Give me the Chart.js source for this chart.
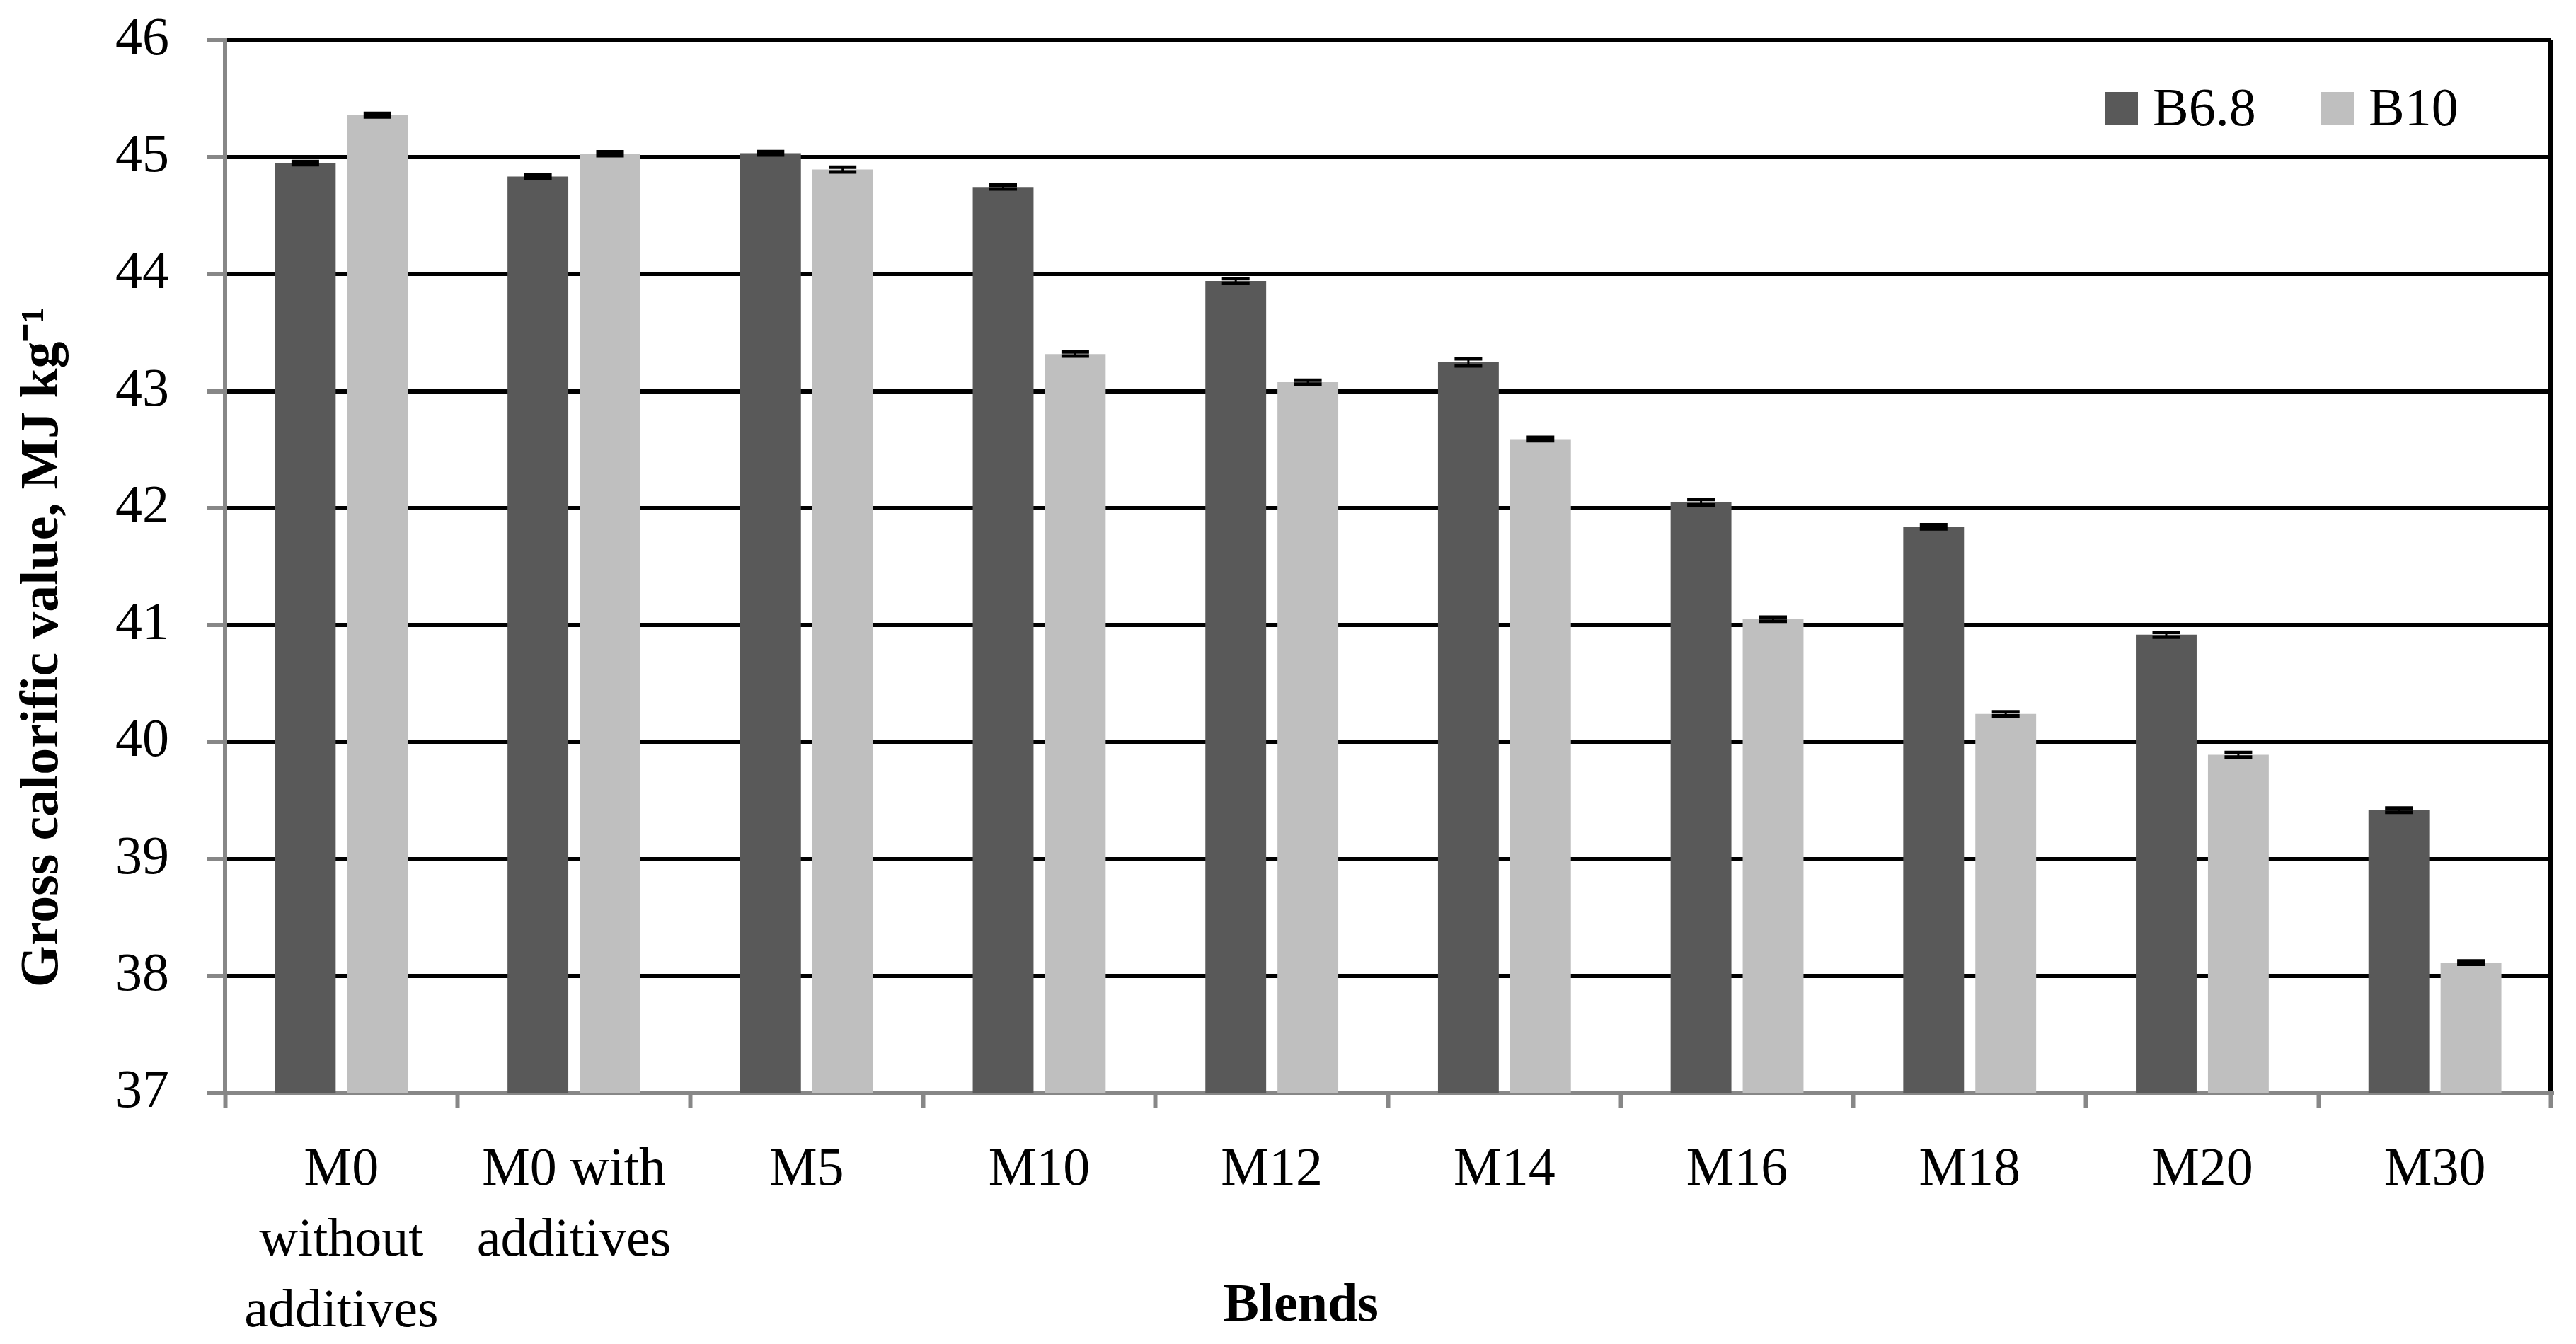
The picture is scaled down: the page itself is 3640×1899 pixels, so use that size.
<!DOCTYPE html>
<html>
<head>
<meta charset="utf-8">
<script src="https://cdn.jsdelivr.net/npm/chart.js@4.4.1/dist/chart.umd.min.js"></script>
<style>
html,body{margin:0;padding:0;background:#ffffff;}
#wrap{width:3640px;height:1899px;position:relative;}
canvas{display:block;}
</style>
</head>
<body>
<div id="wrap"><canvas id="chart" width="3640" height="1899"></canvas></div>
<script>
// ---- data ----
const categories = [["M0", "without", "additives"], ["M0 with", "additives"], "M5", "M10", "M12", "M14", "M16", "M18", "M20", "M30"];
const seriesNames = ["B6.8", "B10"];
const b68Values = [44.95, 44.835, 45.034, 44.746, 43.942, 43.246, 42.05, 41.84, 40.917, 39.416];
const b10Values = [45.36, 45.03, 44.895, 43.318, 43.077, 42.59, 41.05, 40.24, 39.89, 38.113];
const b68Errors = [0.014, 0.014, 0.014, 0.017, 0.02, 0.03, 0.024, 0.017, 0.02, 0.018];
const b10Errors = [0.015, 0.017, 0.02, 0.017, 0.017, 0.014, 0.017, 0.017, 0.02, 0.015];
const yMin = 37;
const yMax = 46;
const yStep = 1;
const yTitle = "Gross calorific value, MJ kg\u207B\u00B9";
const xTitle = "Blends";

// ---- styles ----
const FAMILY = "'Liberation Serif', 'Times New Roman', serif";
const seriesColors = ["#595959", "#bfbfbf"];
const errorSets = [b68Errors, b10Errors];
const AXIS_GREY = "#878787";

const errorBarPlugin = {
  id: "errorBars",
  afterDatasetsDraw(chart) {
    const ctx = chart.ctx;
    const ys = chart.scales.y;
    ctx.save();
    ctx.strokeStyle = "#000";
    chart.data.datasets.forEach((ds, i) => {
      const meta = chart.getDatasetMeta(i);
      const errs = errorSets[i];
      meta.data.forEach((bar, j) => {
        const v = ds.data[j], e = errs[j];
        const yt = ys.getPixelForValue(v + e);
        const yb = ys.getPixelForValue(v - e);
        const half = 19.5;
        ctx.lineWidth = 3;
        ctx.beginPath(); ctx.moveTo(bar.x, yt); ctx.lineTo(bar.x, yb); ctx.stroke();
        ctx.lineWidth = 5;
        ctx.beginPath();
        ctx.moveTo(bar.x - half, yt); ctx.lineTo(bar.x + half, yt);
        ctx.moveTo(bar.x - half, yb); ctx.lineTo(bar.x + half, yb);
        ctx.stroke();
      });
    });
    ctx.restore();
  }
};

const legendPlugin = {
  id: "insideLegend",
  afterDraw(chart) {
    const ctx = chart.ctx;
    const a = chart.chartArea;
    ctx.save();
    ctx.font = "76px " + FAMILY;
    ctx.textBaseline = "alphabetic";
    ctx.textAlign = "left";
    let x = a.right - 630;
    chart.data.datasets.forEach((ds) => {
      ctx.fillStyle = ds.backgroundColor;
      ctx.fillRect(x, a.top + 73, 46, 47);
      ctx.fillStyle = "#000";
      ctx.fillText(ds.label, x + 67, a.top + 120);
      x += 305;
    });
    ctx.restore();
  }
};

new Chart(document.getElementById("chart"), {
  type: "bar",
  data: {
    labels: categories,
    datasets: [
      { label: seriesNames[0], data: b68Values, backgroundColor: seriesColors[0], borderWidth: 0,
        categoryPercentage: 0.62, barPercentage: 0.843 },
      { label: seriesNames[1], data: b10Values, backgroundColor: seriesColors[1], borderWidth: 0,
        categoryPercentage: 0.62, barPercentage: 0.843 }
    ]
  },
  options: {
    responsive: false,
    animation: false,
    devicePixelRatio: 1,
    layout: { padding: { top: 57, right: 35, left: 0, bottom: 0 } },
    plugins: {
      legend: { display: false },
      tooltip: { enabled: false }
    },
    scales: {
      x: {
        ticks: { color: "#000", font: { family: FAMILY, size: 76, lineHeight: 1.316 }, padding: 38,
                 maxRotation: 0, minRotation: 0, autoSkip: false },
        grid: {
          offset: true,
          drawOnChartArea: true,
          color: (c) => (c.type === "scale" ? "#000" : "rgba(0,0,0,0)"),
          lineWidth: 7,
          tickColor: AXIS_GREY,
          tickLength: 22,
          tickWidth: 6
        },
        border: { color: AXIS_GREY, width: 6 },
        title: { display: true, text: xTitle + "             ", color: "#000",
                 font: { family: FAMILY, size: 76, weight: "bold", lineHeight: 1.2 },
                 padding: { top: 0, bottom: 7 } },
        afterFit: (s) => { s.height = 355; }
      },
      y: {
        min: yMin,
        max: yMax,
        ticks: { stepSize: yStep, color: "#000", font: { family: FAMILY, size: 76, lineHeight: 1.2 }, padding: 53 },
        grid: { color: "#000", lineWidth: 6, tickColor: AXIS_GREY, tickLength: 26, tickWidth: 6 },
        border: { color: AXIS_GREY, width: 6 },
        title: { display: true, text: yTitle + "            ", color: "#000",
                 font: { family: FAMILY, size: 76, weight: "bold", lineHeight: 1.2 },
                 padding: { top: 16, bottom: 0 } },
        afterFit: (s) => { s.width = 318; s.paddingTop = 0; s.paddingBottom = 0; }
      }
    }
  },
  plugins: [errorBarPlugin, legendPlugin]
});
</script>
</body>
</html>
